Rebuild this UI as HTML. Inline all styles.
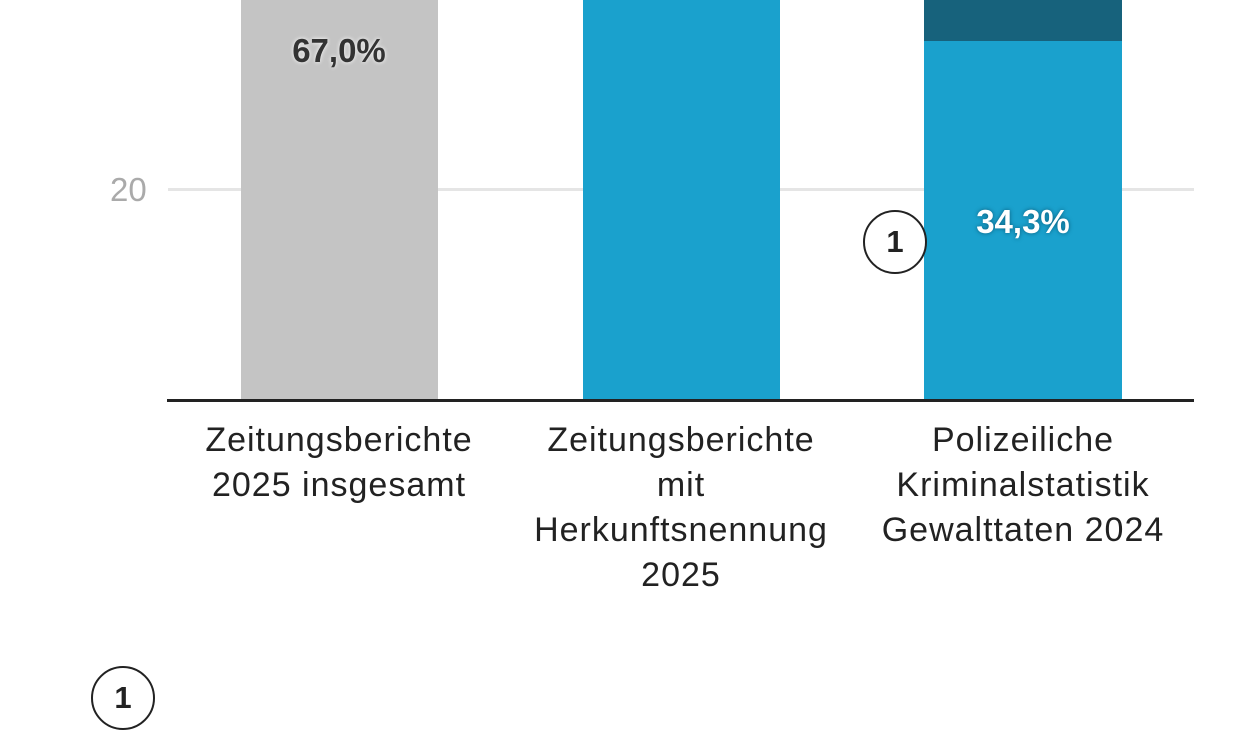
<!DOCTYPE html>
<html><head><meta charset="utf-8"><style>
body{margin:0;width:1244px;height:717px;overflow:hidden;background:#fff;font-family:"Liberation Sans",sans-serif;position:relative}
.a{position:absolute}
.lab{position:absolute;text-align:center;font-size:34px;letter-spacing:1px;color:#222;line-height:45px;width:360px}
.v{position:absolute;font-weight:bold;font-size:33px;text-align:center;width:200px}
.c{position:absolute;border:2.5px solid #222;border-radius:50%;box-sizing:border-box;width:64px;height:64px;font-weight:bold;font-size:31px;line-height:59px;text-align:center;color:#222;background:#fff}
</style></head><body>
<div class="a" style="left:168px;top:188px;width:1026px;height:3px;background:#e5e5e5"></div>
<div class="a" style="left:110px;top:171px;font-size:33px;color:#aaa">20</div>
<div class="a" style="left:241px;top:0;width:197px;height:400px;background:#c4c4c4"></div>
<div class="a" style="left:583px;top:0;width:197px;height:400px;background:#1aa1cd"></div>
<div class="a" style="left:924px;top:0;width:198px;height:400px;background:#1aa1cd"></div>
<div class="a" style="left:924px;top:0;width:198px;height:41px;background:#17627c"></div>
<div class="a" style="left:167px;top:399px;width:1027px;height:3px;background:#222"></div>
<div class="v" style="left:239px;top:32px;color:#333;text-shadow:0 0 4px #fff">67,0%</div>
<div class="v" style="left:923px;top:203px;color:#fff;text-shadow:0 0 4px #0a5a78">34,3%</div>
<div class="c" style="left:863px;top:210px">1</div>
<div class="c" style="left:91px;top:666px">1</div>
<div class="lab" style="left:159px;top:418px">Zeitungsberichte<br>2025 insgesamt</div>
<div class="lab" style="left:501px;top:418px">Zeitungsberichte<br>mit<br>Herkunftsnennung<br>2025</div>
<div class="lab" style="left:843px;top:418px">Polizeiliche<br>Kriminalstatistik<br>Gewalttaten 2024</div>
</body></html>
